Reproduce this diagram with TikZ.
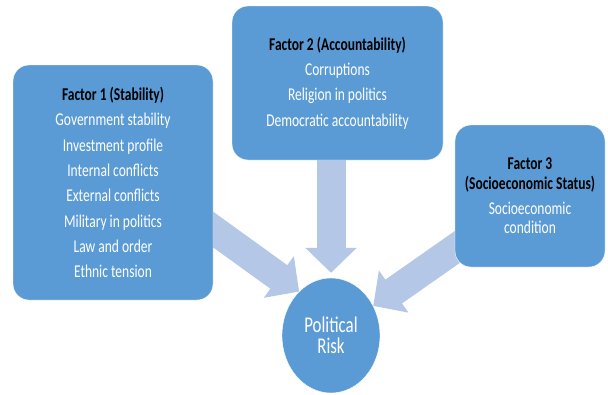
\documentclass[tikz,border=0pt]{standalone}
\usepackage{fontspec}
\setmainfont{Carlito}[FakeStretch=0.75]
\usepackage{tikz}
\usetikzlibrary{calc}
\usetikzlibrary{arrows.meta}
\usetikzlibrary{shapes.geometric}
\usetikzlibrary{backgrounds}

\definecolor{FactorBlue}{HTML}{5B9BD5}
\definecolor{FlowBlue}{HTML}{B4C7E7}

\newcommand{\factortitle}[1]{\textcolor{black}{\textbf{#1}}}

\tikzset{
	factor/.style={
		draw=white,
		fill=FactorBlue,
		text=white,
		rounded corners=16pt,
		align=center,
		inner sep=0pt,
		font=\fontsize{18}{25.3}\selectfont
	},
	flow/.style={
		draw=FlowBlue,
		line width=29pt,
		-{Triangle[width=50pt,length=25pt]}
	}
}

\begin{document}
\begin{tikzpicture}[x=1pt,y=-1pt]

\useasboundingbox (0,0) rectangle (608,394);

\node[
	factor,
	minimum width=200pt,
	minimum height=235pt
] (stability) at (113,182.5) {\factortitle{Factor 1 (Stability)}\\
	Government stability\\
	Investment profile\\
	Internal conflicts\\
	External conflicts\\
	Military in politics\\
	Law and order\\
	Ethnic tension};

\node[
	factor,
	minimum width=211pt,
	minimum height=154pt
] (accountability) at (337.5,83) {\factortitle{Factor 2 (Accountability)}\\
	Corruptions\\
	Religion in politics\\
	Democratic accountability};

\node[
	factor,
	minimum width=150pt,
	minimum height=142pt
] (socio) at (530,196) {\factortitle{Factor 3}\\[-6pt]
	\factortitle{(Socioeconomic Status)}\\
	Socioeconomic\\[-6pt]
	condition};

\node[
	ellipse,
	draw=white,
	fill=FactorBlue,
	text=white,
	inner sep=0pt,
	minimum width=98pt,
	minimum height=115pt,
	align=center,
	font=\fontsize{22.5}{21}\selectfont
] (risk) at (331,335.5) {Political\\Risk};

% ---

\begin{scope}[on background layer]
\coordinate (stabilityOut) at ($(stability.east)!0.4!(stability.south east)$);

\draw[flow, shorten <=-20pt] (stabilityOut) -- (risk.126);

\draw[flow, shorten <=-10pt, shorten >=5pt] (accountability.south -| risk) -- (risk.north);

\draw[flow, shorten <=-20pt] (socio) -- (risk);
\end{scope}

\end{tikzpicture}
\end{document}
